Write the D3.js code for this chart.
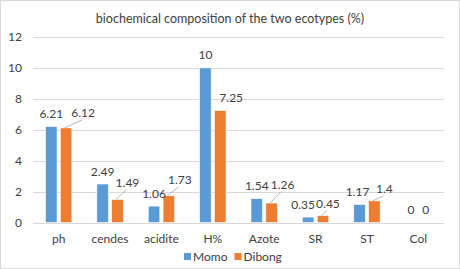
<!doctype html>
<html>
    <head>
        <meta charset="utf-8">
        <title>biochemical composition</title>
        <script src="https://d3js.org/d3.v7.min.js"></script>
        <style>
            body { margin: 0; background: #fff; }
            text { font-family: Lato, "Open Sans", sans-serif; fill: #404040; }
        </style>
    </head>

    <body>
        <script>
            // values
            var categories = ["ph", "cendes", "acidite", "H%", "Azote", "SR", "ST", "Col"];
            var series = ["Momo", "Dibong"];
            var momo = [6.21, 2.49, 1.06, 10, 1.54, 0.35, 1.17, 0];
            var dibong = [6.12, 1.49, 1.73, 7.25, 1.26, 0.45, 1.4, 0];
            var yTicks = [0, 2, 4, 6, 8, 10, 12];

            // label nudges (px) like the moved labels in the original
            var momoShift = [[0, 0], [0, 0], [0, 0], [0, 0], [0, 0], [-5, 0], [-2, 0], [0, 0]];
            var dibongShift = [[17, -2], [10, -4], [11, -3], [11, 0], [11, -6], [5, 1], [10, 1], [0, 0]];
            var dibongLeader = [true, true, true, false, true, true, true, false];

            var width = 460;
            var height = 269;
            var colors = ["#5B9BD5", "#ED7D31"];

            var svg = d3.select("body")
                .append("svg")
                .attr("width", width)
                .attr("height", height);

            // chart border
            svg.append("rect")
                .attr("x", 0.5)
                .attr("y", 0.5)
                .attr("width", width - 1)
                .attr("height", height - 1)
                .attr("fill", "#fff")
                .attr("stroke", "#D9D9D9");

            var x = d3.scaleBand()
                .domain(categories)
                .range([33, 444]);

            var xInner = d3.scaleBand()
                .domain(series)
                .range([x.bandwidth() * 0.243, x.bandwidth() * 0.757])
                .paddingInner(0.22);

            var y = d3.scaleLinear()
                .domain([0, 12])
                .range([222.5, 37]);

            // gridlines
            svg.append("g")
                .selectAll("line")
                .data(yTicks)
                .enter().append("line")
                .attr("x1", 33)
                .attr("x2", 444)
                .attr("y1", function(d) { return Math.round(y(d)) + 0.5; })
                .attr("y2", function(d) { return Math.round(y(d)) + 0.5; })
                .attr("stroke", "#D9D9D9")
                .attr("stroke-width", 1);

            // y tick labels
            svg.append("g")
                .selectAll("text")
                .data(yTicks)
                .enter().append("text")
                .attr("x", 22)
                .attr("y", function(d) { return y(d) + 4; })
                .attr("text-anchor", "end")
                .style("font-size", "12px")
                .text(function(d) { return d; });

            var data = categories.map(function(c, i) {
                return { name: c, i: i, values: [momo[i], dibong[i]] };
            });

            var groups = svg.selectAll(".cat")
                .data(data)
                .enter().append("g")
                .attr("class", "cat")
                .attr("transform", function(d) { return "translate(" + x(d.name) + ",0)"; });

            groups.selectAll("rect")
                .data(function(d) { return d.values.map(function(v, k) { return { s: series[k], k: k, v: v }; }); })
                .enter().append("rect")
                .attr("x", function(d) { return xInner(d.s); })
                .attr("width", xInner.bandwidth())
                .attr("y", function(d) { return y(d.v); })
                .attr("height", function(d) { return y(0) - y(d.v); })
                .attr("fill", function(d) { return colors[d.k]; })
                .attr("stroke", "#fff")
                .attr("stroke-width", 0.6);

            // leader lines for the moved Dibong labels
            groups.each(function(d) {
                if (!dibongLeader[d.i]) return;
                var bx = xInner("Dibong") + xInner.bandwidth() / 2;
                var by = y(d.values[1]);
                var lx = bx + dibongShift[d.i][0];
                var ly = by - 13 + dibongShift[d.i][1];
                d3.select(this).append("line")
                    .attr("x1", bx - 1.5)
                    .attr("y1", by)
                    .attr("x2", lx - 1)
                    .attr("y2", ly + 7)
                    .attr("stroke", "#A6A6A6")
                    .attr("stroke-width", 0.8);
            });

            // data labels
            groups.selectAll(".lbl")
                .data(function(d) {
                    return d.values.map(function(v, k) {
                        var sh = k === 0 ? momoShift[d.i] : dibongShift[d.i];
                        return { s: series[k], v: v, dx: sh[0], dy: sh[1] };
                    });
                })
                .enter().append("text")
                .attr("class", "lbl")
                .attr("x", function(d) { return xInner(d.s) + xInner.bandwidth() / 2 + d.dx; })
                .attr("y", function(d) { return y(d.v) - 13 + d.dy + 4.5; })
                .attr("text-anchor", "middle")
                .style("font-size", "12px")
                .text(function(d) { return d.v; });

            // category labels
            svg.append("g")
                .selectAll("text")
                .data(categories)
                .enter().append("text")
                .attr("x", function(d) { return x(d) + x.bandwidth() / 2; })
                .attr("y", 243)
                .attr("text-anchor", "middle")
                .style("font-size", "12px")
                .text(function(d) { return d; });

            // legend
            var legend = svg.selectAll(".legend")
                .data(series)
                .enter().append("g")
                .attr("class", "legend")
                .attr("transform", function(d, i) { return "translate(" + (184 + i * 50.5) + ",253)"; });

            legend.append("rect")
                .attr("width", 7)
                .attr("height", 7)
                .attr("fill", function(d, i) { return colors[i]; });

            legend.append("text")
                .attr("x", 9)
                .attr("y", 8)
                .style("font-size", "12px")
                .text(function(d) { return d; });

            // title
            svg.append("text")
                .attr("x", 230)
                .attr("y", 23)
                .attr("text-anchor", "middle")
                .style("font-size", "12.5px")
                .text("biochemical composition of the two ecotypes (%)");
        </script>
    </body>
</html>
